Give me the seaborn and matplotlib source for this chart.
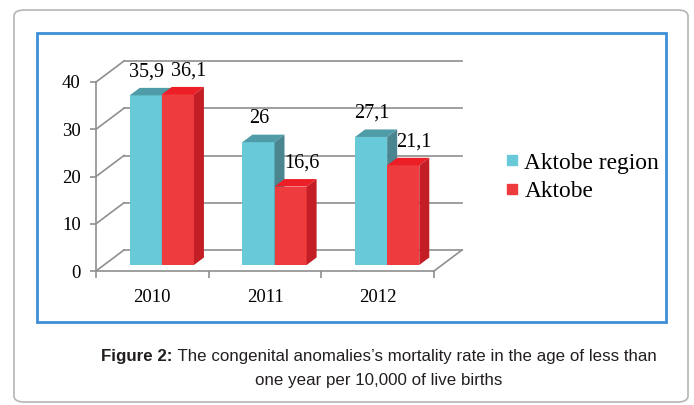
import pandas as pd
import numpy as np
import matplotlib
matplotlib.use("Agg")
import matplotlib.pyplot as plt
import seaborn as sns
from matplotlib.patches import Polygon, Rectangle, FancyBboxPatch
from matplotlib.lines import Line2D

years = ["2010", "2011", "2012"]
series = ["Aktobe region", "Aktobe"]
region_vals = [35.9, 26, 27.1]
city_vals = [36.1, 16.6, 21.1]
value_labels = [["35,9", "26", "27,1"], ["36,1", "16,6", "21,1"]]
y_ticks = [0, 10, 20, 30, 40]

front_col = ["#68c9d8", "#ee3c3e"]
top_col = ["#4f9ba7", "#ec1f27"]
side_col = ["#4a8590", "#c31d25"]
grid_col = "#8f8f8f"

df = pd.DataFrame({
    "year": years * 2,
    "series": [series[0]] * 3 + [series[1]] * 3,
    "value": region_vals + city_vals,
})

W, H = 694, 405
fig = plt.figure(figsize=(W / 100, H / 100), dpi=100)
fig.patch.set_facecolor("white")

def fx(x):
    return x / W

def fy(y):
    return 1 - y / H

# frames
fig.patches.append(FancyBboxPatch((fx(14), fy(402)), fx(688) - fx(14), fy(10) - fy(402),
                                  boxstyle="round,pad=0,rounding_size=0.015",
                                  transform=fig.transFigure, fill=False,
                                  edgecolor="#b5b5b5", lw=1.2, zorder=0))
fig.patches.append(Rectangle((fx(37), fy(322)), fx(666) - fx(37), fy(33) - fy(322),
                             transform=fig.transFigure, fill=False,
                             edgecolor="#3c8fd6", lw=2, zorder=1))

# axes: front plane of the 3D box
ax = fig.add_axes([fx(96), fy(271), fx(434) - fx(96), fy(82) - fy(271)])
ax.set_facecolor("none")

sns.barplot(data=df, x="year", y="value", hue="series", palette=front_col,
            width=0.57, saturation=1, legend=False, ax=ax, zorder=3)

ax.set_xlim(-0.5, 2.5)
ax.set_ylim(0, 40)

# pixel -> data scale
xpx = (434 - 96) / 3.0
ypx = (271 - 82) / 40.0
Dx, Dy = 28 / xpx, 21 / ypx        # depth of the floor/walls
fdx, fdy = 9.5 / xpx, 6 / ypx      # bar front shift into depth
bdx, bdy = 10 / xpx, 7.5 / ypx     # bar depth
label_shift = [1, 11]              # px, label x nudge per series

# back wall gridlines and left wall diagonals
for v in y_ticks:
    ax.plot([-0.5 + Dx, 2.5 + Dx], [v + Dy, v + Dy], color=grid_col, lw=1.2,
            clip_on=False, zorder=1)
    ax.plot([-0.5, -0.5 + Dx], [v, v + Dy], color=grid_col, lw=1.2,
            clip_on=False, zorder=1)
ax.plot([2.5, 2.5 + Dx], [0, Dy], color=grid_col, lw=1.2, clip_on=False, zorder=1)

# 3D faces for bars
for k, cont in enumerate(ax.containers):
    for j, p in enumerate(cont.patches):
        x0 = p.get_x() + fdx
        w = p.get_width()
        h = p.get_height()
        p.set_x(x0)
        p.set_y(fdy)
        p.set_linewidth(0)
        p.set_zorder(3 + k)
        x1 = x0 + w
        b, t = fdy, fdy + h
        top = Polygon([(x0, t), (x1, t), (x1 + bdx, t + bdy), (x0 + bdx, t + bdy)],
                      closed=True, facecolor=top_col[k], lw=0, zorder=3 + k, clip_on=False)
        side = Polygon([(x1, b), (x1 + bdx, b + bdy), (x1 + bdx, t + bdy), (x1, t)],
                       closed=True, facecolor=side_col[k], lw=0, zorder=3 + k, clip_on=False)
        ax.add_patch(top)
        ax.add_patch(side)
        ax.annotate(value_labels[k][j], (x0 + w / 2, t),
                    xytext=(label_shift[k] * 0.72, 23.5 * 0.72),
                    textcoords="offset points", ha="center", va="center",
                    fontsize=14.5, family="Liberation Serif", annotation_clip=False,
                    zorder=10)

# axes styling
for s in ["top", "right"]:
    ax.spines[s].set_visible(False)
for s in ["left", "bottom"]:
    ax.spines[s].set_color(grid_col)
    ax.spines[s].set_linewidth(1.2)
ax.set_yticks(y_ticks)
ax.set_yticklabels([str(v) for v in y_ticks], family="Liberation Serif", fontsize=13.5)
ax.set_xticks([-0.5, 0.5, 1.5, 2.5])
ax.set_xticklabels([])
ax.set_xticks([0, 1, 2], minor=True)
ax.set_xticklabels(years, minor=True, family="Liberation Serif", fontsize=13.5)
ax.tick_params(axis="y", length=4, width=1.2, color=grid_col, pad=7)
ax.tick_params(axis="x", which="major", length=5, width=1.2, color=grid_col)
ax.tick_params(axis="x", which="minor", length=0, pad=13)
ax.set_xlabel("")
ax.set_ylabel("")

# legend
handles = [Line2D([], [], marker="s", ls="none", markersize=7.5,
                  markerfacecolor=c, markeredgecolor=c) for c in front_col]
fig.legend(handles, series, loc="center left", bbox_to_anchor=(fx(494), fy(177)),
           frameon=False, prop={"family": "Liberation Serif", "size": 16.8},
           handlelength=0.5, handletextpad=0.3, labelspacing=0.3, borderpad=0)

# caption
r = fig.canvas.get_renderer()
cap_kw = dict(family="Liberation Sans", fontsize=12.2, color="#231f20", va="center")
t1 = fig.text(0, fy(357), "Figure 2:", weight="bold", **cap_kw)
t2 = fig.text(0, fy(357), " The congenital anomalies\u2019s mortality rate in the age of less than", **cap_kw)
w1 = t1.get_window_extent(r).width
w2 = t2.get_window_extent(r).width
start = 379 - (w1 + w2) / 2
t1.set_x(fx(start))
t2.set_x(fx(start + w1))
fig.text(fx(379), fy(381), "one year per 10,000 of live births", ha="center", **cap_kw)

fig.savefig("out.png", dpi=100)
